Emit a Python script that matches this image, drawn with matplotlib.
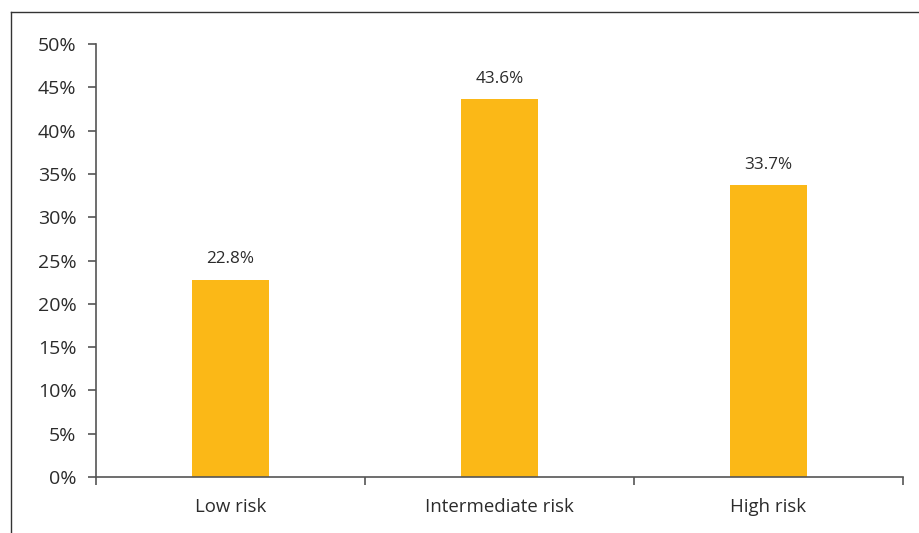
import matplotlib
matplotlib.use("Agg")
import matplotlib.pyplot as plt
from matplotlib.lines import Line2D
import numpy as np

categories = ["Low risk", "Intermediate risk", "High risk"]
values = [22.8, 43.6, 33.7]
yticks = [0, 5, 10, 15, 20, 25, 30, 35, 40, 45, 50]

W, H = 919, 533
fig = plt.figure(figsize=(W / 100, H / 100), dpi=100)
plt.rcParams['font.family'] = ['Open Sans', 'DejaVu Sans']

ax = fig.add_axes([96 / W, 1 - 477 / H, (903 - 96) / W, (477 - 44) / H])

bar_color = "#FBB817"
axis_color = "#555555"
text_color = "#2b2b2b"

x = np.arange(len(categories))
ax.bar(x, values, width=0.286, color=bar_color, zorder=2)
for xi, v in zip(x, values):
    ax.annotate(f"{v:.1f}%", (xi, v), xytext=(0, 9), textcoords="offset points",
                ha="center", va="bottom", fontsize=12.3, color=text_color)

ax.set_xlim(-0.5, len(categories) - 0.5)
ax.set_ylim(0, 50)
ax.set_yticks(yticks)
ax.set_yticklabels([f"{t}%" for t in yticks])

ax.set_xticks(np.arange(len(categories) + 1) - 0.5)
ax.set_xticklabels([])
ax.set_xticks(x, minor=True)
ax.set_xticklabels(categories, minor=True)
ax.tick_params(axis="x", which="major", length=6, width=1.2, color=axis_color, direction="out")
ax.tick_params(axis="x", which="minor", length=0, pad=15, labelsize=13.4, labelcolor=text_color)
ax.tick_params(axis="y", length=6, width=1.2, color=axis_color, pad=8, labelsize=14, labelcolor=text_color)

for s in ["top", "right"]:
    ax.spines[s].set_visible(False)
for s in ["left", "bottom"]:
    ax.spines[s].set_color(axis_color)
    ax.spines[s].set_linewidth(1.2)

# outer frame (top and left edges visible)
fig.add_artist(Line2D([11 / W, 1.0], [1 - 12 / H, 1 - 12 / H], transform=fig.transFigure, color="#333333", lw=1.0))
fig.add_artist(Line2D([11 / W, 11 / W], [0.0, 1 - 12 / H], transform=fig.transFigure, color="#333333", lw=1.0))

fig.savefig("out.png", dpi=100)
